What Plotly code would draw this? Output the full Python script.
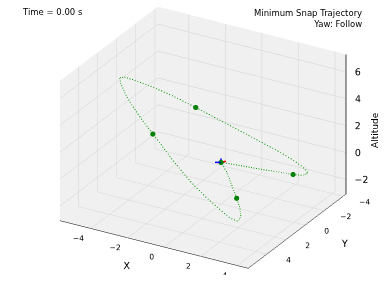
import math
import plotly.graph_objects as go

# Trajectory samples (x, y, altitude)
traj_x = [0.00, 0.71, 1.38, 2.04, 2.70, 3.03, 3.19, 2.99, 2.50, 1.85, 1.08, 0.19, -0.71,
          -2.02, -2.71, -3.29, -4.01, -4.70, -5.11, -5.24, -5.02, -4.58, -4.11, -3.60,
          -2.91, -2.44, -1.62, -0.63, 0.28, 0.98, 1.49, 1.84, 1.82, 1.61, 1.29, 0.84, 0.39, 0.00]
traj_y = [0.00, -0.62, -1.20, -1.80, -2.39, -2.71, -3.02, -3.09, -3.00, -2.79, -2.48, -2.12, -1.76,
          -1.22, -0.92, -0.65, -0.28, 0.13, 0.42, 0.63, 0.83, 1.10, 1.27, 1.42,
          1.57, 1.66, 1.85, 2.00, 2.01, 1.96, 1.90, 1.71, 1.40, 1.09, 0.83, 0.49, 0.15, 0.00]
traj_z = [0.00, -0.33, -0.65, -0.96, -1.26, -1.39, -1.36, -1.13, -0.69, -0.17, 0.41, 1.08, 1.75,
          2.73, 3.24, 3.65, 4.14, 4.58, 4.82, 4.82, 4.48, 3.89, 3.32, 2.73,
          1.95, 1.43, 0.50, -0.56, -1.48, -2.14, -2.61, -2.85, -2.64, -2.25, -1.78, -1.13, -0.48, 0.00]

# Waypoints
wp_x = [0.00, 2.70, -2.02, -2.91, 1.29]
wp_y = [0.00, -2.39, -1.22, 1.57, 0.83]
wp_z = [0.00, -1.26, 2.73, 1.95, -1.78]

# Quadrotor body axes at t = 0
body_blue_x = [0.0, -0.20, None, 0.0, -0.08]
body_blue_y = [0.0, 0.24, None, 0.0, -0.16]
body_blue_z = [0.0, 0.06, None, 0.0, 0.18]
body_red_x = [0.0, 0.15]
body_red_y = [0.0, -0.24]
body_red_z = [0.0, 0.0]

x_range = [-5.7, 4.6]
y_range = [5.95, -4.3]   # reversed axis
z_range = [-3.1, 7.3]
x_ticks = [-4, -2, 0, 2, 4]
y_ticks = [-4, -2, 0, 2, 4]
z_ticks = [-2, 0, 2, 4, 6]

FONT = "DejaVu Sans"


def lab(t):
    return ("\u2212" + str(-t)) if t < 0 else str(t)


fig = go.Figure()
fig.add_trace(go.Scatter3d(x=traj_x, y=traj_y, z=traj_z, mode="lines",
                           line=dict(color="rgb(0,150,0)", width=2, dash="dot"),
                           hoverinfo="skip", showlegend=False))
fig.add_trace(go.Scatter3d(x=wp_x, y=wp_y, z=wp_z, mode="markers",
                           marker=dict(color="rgb(0,128,0)", size=3, line=dict(width=0)),
                           showlegend=False))
fig.add_trace(go.Scatter3d(x=body_blue_x, y=body_blue_y, z=body_blue_z, mode="lines",
                           line=dict(color="blue", width=3), showlegend=False))
fig.add_trace(go.Scatter3d(x=body_red_x, y=body_red_y, z=body_red_z, mode="lines",
                           line=dict(color="red", width=3), showlegend=False))

# Altitude axis drawn on the right-hand vertical edge (as in the reference)
edge_x = [x_range[1]] * 2
edge_y = [y_range[1]] * 2
fig.add_trace(go.Scatter3d(x=edge_x, y=edge_y, z=z_range, mode="lines",
                           line=dict(color="black", width=1.5), showlegend=False, hoverinfo="skip"))
fig.add_trace(go.Scatter3d(x=[x_range[1]] * len(z_ticks), y=[y_range[1]] * len(z_ticks), z=z_ticks,
                           mode="text", text=["    " + lab(t) for t in z_ticks], textposition="middle right",
                           textfont=dict(family=FONT, size=9.5, color="black"),
                           showlegend=False, hoverinfo="skip"))


def ax(title, rng, ticks, show=True):
    return dict(title=dict(text=title, font=dict(family=FONT, size=10, color="black")),
                range=rng, tickvals=ticks, ticktext=[lab(t) for t in ticks],
                tickfont=dict(family=FONT, size=9.5, color="black"), tickangle=0,
                showticklabels=show,
                showbackground=True, backgroundcolor="rgb(240,240,240)",
                gridcolor="rgb(208,208,208)", gridwidth=1,
                zeroline=False, showline=show, linecolor="black", linewidth=1,
                ticks="outside" if show else "", ticklen=7, tickcolor="rgba(0,0,0,0)",
                showspikes=False)


zax = ax("", z_range, z_ticks, show=False)
S = 1.58
ELEV, AZIM = math.radians(26), math.radians(-60)
eye = dict(x=2 * math.cos(ELEV) * math.cos(AZIM), y=2 * math.cos(ELEV) * math.sin(AZIM), z=2 * math.sin(ELEV))

fig.update_layout(
    width=384, height=288,
    margin=dict(l=0, r=0, t=0, b=0),
    paper_bgcolor="white",
    scene=dict(
        domain=dict(x=[0.057, 1.0], y=[0.045, 1.0]),
        xaxis=ax("X", x_range, x_ticks),
        yaxis=ax("Y", y_range, y_ticks),
        zaxis=zax,
        aspectmode="manual", aspectratio=dict(x=1 * S, y=0.9 * S, z=0.716 * S),
        camera=dict(eye=eye, up=dict(x=0, y=0, z=1), center=dict(x=0, y=0, z=0),
                    projection=dict(type="orthographic")),
    ),
    annotations=[
        dict(text="Time = 0.00 s", x=20 / 384, y=1 - 12 / 288, xref="paper", yref="paper",
             xanchor="left", yanchor="middle", showarrow=False,
             font=dict(family=FONT, size=8.5, color="black")),
        dict(text="Minimum Snap Trajectory<br>Yaw: Follow", x=364 / 384, y=1 - 18 / 288,
             xref="paper", yref="paper", xanchor="right", yanchor="middle", align="right",
             showarrow=False, font=dict(family=FONT, size=8.5, color="black")),
        dict(text="Altitude", x=375 / 384, y=1 - 130 / 288, xref="paper", yref="paper",
             xanchor="center", yanchor="middle", textangle=-90, showarrow=False,
             font=dict(family=FONT, size=9, color="black")),
    ],
)

fig.write_html("out.html")
